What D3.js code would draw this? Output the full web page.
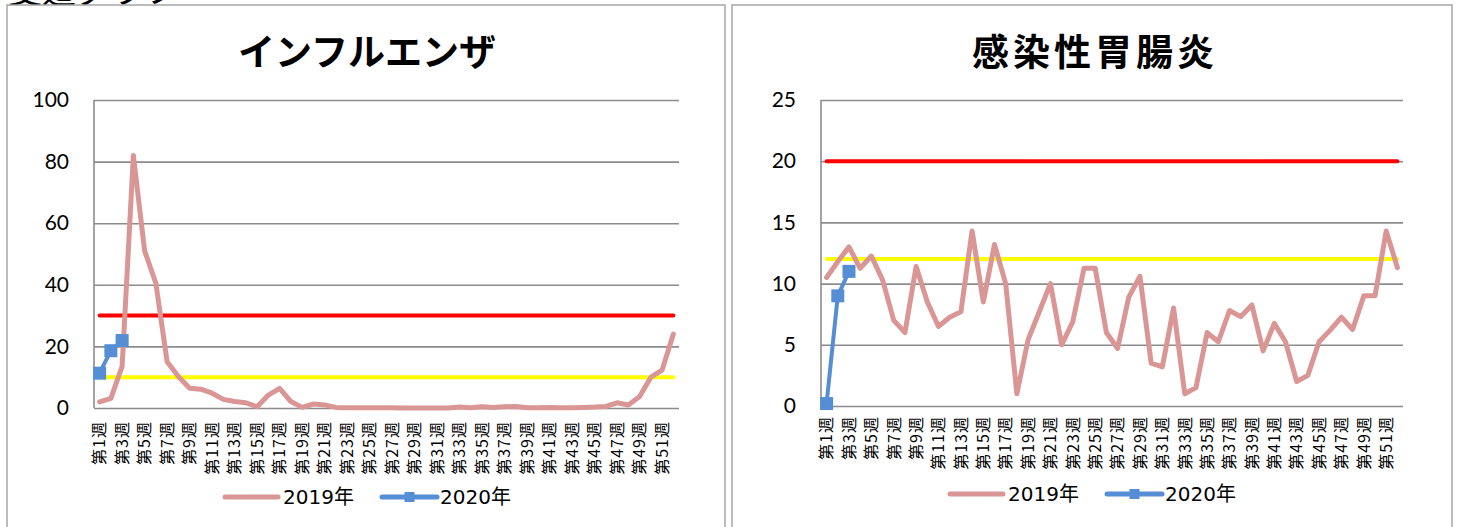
<!DOCTYPE html>
<html>
<head>
<meta charset="utf-8">
<script src="https://cdnjs.cloudflare.com/ajax/libs/d3/7.8.5/d3.min.js"></script>
<style>
  body { margin: 0; background: #fff; overflow: hidden; }
  svg { display: block; }
</style>
</head>
<body>
<div id="container"></div>
<script>
// categories (week labels)
const weeks = d3.range(1, 53).map(w => `第${w}週`)
const seriesNames = ["2019年", "2020年"]

// インフルエンザ
const flu2019 = [2, 3.1, 13.5, 82, 51, 40.5, 15, 10.2, 6.4, 6.1,
                 4.8, 2.8, 2.1, 1.7, 0.4, 4.2, 6.4, 2.1, 0.2, 1.3,
                 1, 0.2, 0.1, 0.1, 0.1, 0.1, 0.1, 0, 0, 0,
                 0, 0, 0.3, 0.1, 0.4, 0.2, 0.4, 0.5, 0.1, 0.1,
                 0.2, 0.1, 0.1, 0.2, 0.3, 0.5, 1.7, 1, 3.7, 10,
                 12.3, 24]
const flu2020 = [11.3, 18.6, 21.9]
const fluTicks = [0, 20, 40, 60, 80, 100]
const fluWarning = 30
const fluAdvisory = 10

// 感染性胃腸炎
const gastro2019 = [10.5, 11.8, 13, 11.25, 12.25, 10.3, 7, 6, 11.4, 8.5,
                    6.5, 7.25, 7.7, 14.3, 8.5, 13.2, 10, 1, 5.4, 7.7,
                    10, 5, 6.9, 11.25, 11.25, 6, 4.7, 8.9, 10.6, 3.5,
                    3.2, 8, 1, 1.5, 6, 5.25, 7.8, 7.3, 8.25, 4.5,
                    6.75, 5.25, 2, 2.5, 5.25, 6.2, 7.25, 6.25, 9, 9,
                    14.3, 11.3]
const gastro2020 = [0.2, 9, 11]
const gastroTicks = [0, 5, 10, 15, 20, 25]
const gastroWarning = 20
const gastroAdvisory = 12

const colors = {pink: "#d99694", blue: "#558ed5", red: "#ff0000", yellow: "#ffff00", grid: "#8c8c8c", frame: "#a6a6a6"}
const cjk = "'Noto Sans CJK JP', 'Noto Sans CJK SC', sans-serif"

const width = 1458
const height = 527

// append svg to dom
const svg = d3.select("#container").append("svg")
              .attr("width", width)
              .attr("height", height)
              .attr("viewBox", [0, 0, width, height])

// cut-off heading above the charts
svg.append("text")
   .attr("x", 8)
   .attr("y", 3)
   .attr("font-family", cjk)
   .attr("font-size", "34px")
   .attr("fill", "#000")
   .text("変遷グラフ")

function drawChart(opt) {
    // chart frame
    svg.append("rect")
       .attr("x", opt.frame[0])
       .attr("y", opt.frame[1])
       .attr("width", opt.frame[2])
       .attr("height", opt.frame[3])
       .attr("fill", "#fff")
       .attr("stroke", colors.frame)
       .attr("stroke-width", 1.5)

    const innerWidth = opt.plot.right - opt.plot.left
    const innerHeight = opt.plot.bottom - opt.plot.top
    const chart = svg.append("g")
                     .attr("transform", `translate(${opt.plot.left}, ${opt.plot.top})`)

    // create scales
    const xScale = d3.scaleBand()
                     .domain(weeks)
                     .range([0, innerWidth])
    const yScale = d3.scaleLinear()
                     .domain([0, d3.max(opt.ticks)])
                     .range([innerHeight, 0])
    const cx = d => xScale(d) + xScale.bandwidth() / 2

    // y axis with gridlines
    const yAxis = d3.axisLeft(yScale)
                    .tickValues(opt.ticks)
                    .tickSize(-innerWidth)
                    .tickPadding(25)
    const yG = chart.append("g")
                    .call(yAxis)
    yG.select(".domain").remove()
    yG.selectAll("line")
      .attr("stroke", colors.grid)
      .attr("stroke-width", 1.6)
    yG.selectAll("text")
      .attr("font-family", "Lato, 'Open Sans', sans-serif")
      .attr("font-size", "21px")
      .attr("fill", "#000")
    chart.append("line")
         .attr("x1", 0)
         .attr("x2", 0)
         .attr("y1", 0)
         .attr("y2", innerHeight)
         .attr("stroke", colors.grid)
         .attr("stroke-width", 1.6)

    // x axis, every other week, rotated
    const xAxis = d3.axisBottom(xScale)
                    .tickValues(weeks.filter((d, i) => i % 2 === 0))
                    .tickSize(0)
    const xG = chart.append("g")
                    .attr("transform", `translate(0, ${innerHeight})`)
                    .call(xAxis)
    xG.select(".domain").remove()
    xG.selectAll("text")
      .attr("transform", "rotate(-90)")
      .attr("text-anchor", "end")
      .attr("x", -opt.labelGap)
      .attr("y", 0)
      .attr("dy", "0.36em")
      .attr("font-family", cjk)
      .attr("font-size", "16px")
      .attr("letter-spacing", 1)
      .attr("fill", "#000")

    // warning / advisory levels
    const levelLine = v => d3.line()
                             .x(d => cx(d))
                             .y(() => yScale(v))
    chart.append("path")
         .attr("d", levelLine(opt.warning)(weeks))
         .attr("fill", "none")
         .attr("stroke", colors.red)
         .attr("stroke-width", 4)
         .attr("stroke-linecap", "round")
    chart.append("path")
         .attr("d", levelLine(opt.advisory)(weeks))
         .attr("fill", "none")
         .attr("stroke", colors.yellow)
         .attr("stroke-width", 4)
         .attr("stroke-linecap", "round")

    // 2019 line
    const lineGenerator = d3.line()
                            .x((d, i) => cx(weeks[i]))
                            .y(d => yScale(d))
    chart.append("path")
         .attr("d", lineGenerator(opt.last))
         .attr("fill", "none")
         .attr("stroke", colors.pink)
         .attr("stroke-width", 5)
         .attr("stroke-linejoin", "round")
         .attr("stroke-linecap", "round")

    // 2020 line with square markers
    chart.append("path")
         .attr("d", lineGenerator(opt.current))
         .attr("fill", "none")
         .attr("stroke", colors.blue)
         .attr("stroke-width", 4)
    chart.selectAll(".marker")
         .data(opt.current)
         .join("rect")
         .attr("class", "marker")
         .attr("x", (d, i) => cx(weeks[i]) - 6.5)
         .attr("y", d => yScale(d) - 6.5)
         .attr("width", 13)
         .attr("height", 13)
         .attr("fill", colors.blue)

    // title
    svg.append("text")
       .attr("x", opt.titleX)
       .attr("y", 66)
       .attr("text-anchor", "middle")
       .attr("font-family", cjk)
       .attr("font-size", "37px")
       .attr("font-weight", 700)
       .attr("letter-spacing", opt.titleSpacing)
       .attr("fill", "#000")
       .text(opt.title)

    // legend
    const lg = svg.append("g")
                  .attr("transform", `translate(${opt.legend[0]}, ${opt.legend[1]})`)
    lg.append("line")
      .attr("x1", 0).attr("x2", 53)
      .attr("stroke", colors.pink)
      .attr("stroke-width", 5)
      .attr("stroke-linecap", "round")
    lg.append("text")
      .attr("x", 58)
      .attr("dy", "0.36em")
      .attr("font-family", "'DejaVu Sans', " + cjk)
      .attr("font-size", "20px")
      .text(seriesNames[0])
    lg.append("line")
      .attr("x1", 157).attr("x2", 212)
      .attr("stroke", colors.blue)
      .attr("stroke-width", 5)
      .attr("stroke-linecap", "round")
    lg.append("rect")
      .attr("x", 179.5).attr("y", -5)
      .attr("width", 10).attr("height", 10)
      .attr("fill", colors.blue)
    lg.append("text")
      .attr("x", 215)
      .attr("dy", "0.36em")
      .attr("font-family", "'DejaVu Sans', " + cjk)
      .attr("font-size", "20px")
      .text(seriesNames[1])
}

drawChart({
    frame: [7, 5, 718, 560],
    plot: {left: 94, right: 679, top: 100, bottom: 408},
    ticks: fluTicks,
    last: flu2019,
    current: flu2020,
    warning: fluWarning,
    advisory: fluAdvisory,
    title: "インフルエンザ",
    titleX: 367,
    titleSpacing: 0,
    labelGap: 13,
    legend: [225, 497]
})

drawChart({
    frame: [732, 5, 720, 560],
    plot: {left: 821, right: 1403, top: 100, bottom: 406},
    ticks: gastroTicks,
    last: gastro2019,
    current: gastro2020,
    warning: gastroWarning,
    advisory: gastroAdvisory,
    title: "感染性胃腸炎",
    titleX: 1095,
    titleSpacing: 4,
    labelGap: 10,
    legend: [950, 494]
})
</script>
</body>
</html>
